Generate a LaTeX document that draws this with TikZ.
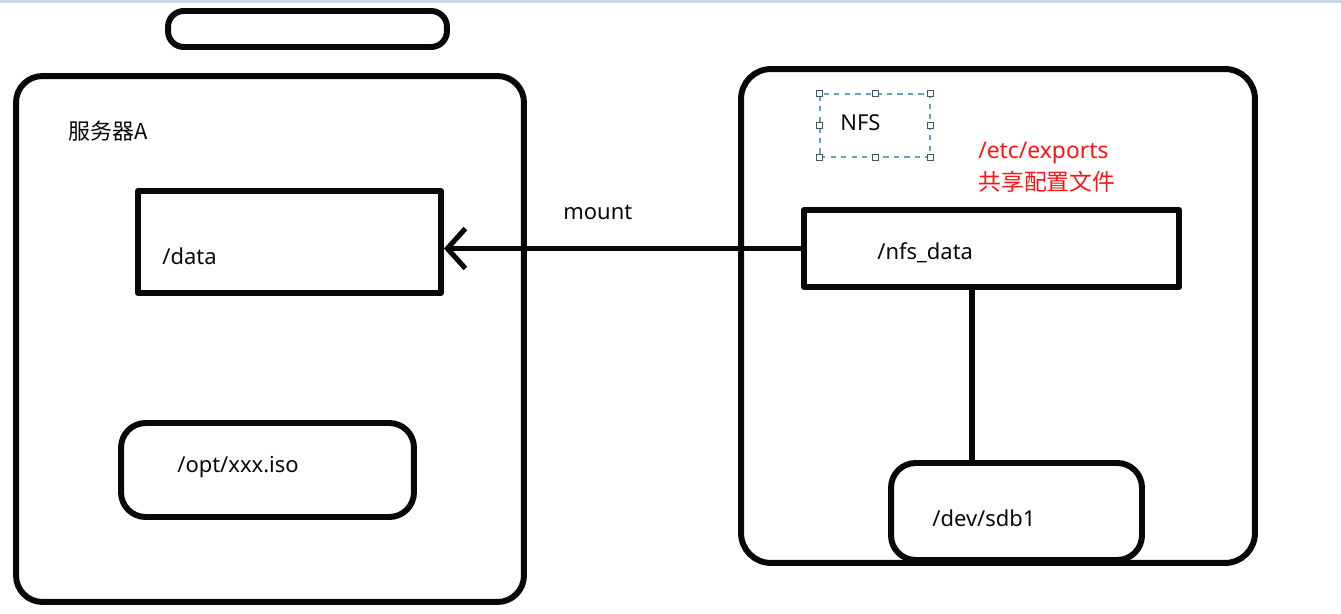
\documentclass[tikz,border=0pt]{standalone}
\usepackage{fontspec}
\setmainfont{Noto Sans}
\newfontfamily\cjk{Noto Sans CJK SC}
\usetikzlibrary{calc,arrows.meta}
\definecolor{inkBlack}{RGB}{8,8,8}
\definecolor{noteRed}{RGB}{250,20,20}
\definecolor{selTeal}{RGB}{105,165,185}
\definecolor{topBand}{RGB}{206,213,228}

\begin{document}
\begin{tikzpicture}[x=0.02cm,y=-0.02cm,
  box/.style={draw=inkBlack,line width=3.4pt,line join=round,inner sep=0pt},
  disk/.style={box,rounded corners=14pt},
  lbl/.style={anchor=west,inner sep=0pt,text=inkBlack,font=\fontsize{12.5}{15}\selectfont}]
\useasboundingbox (0,0) rectangle (1341,614);
\fill[topBand] (0,0) rectangle (1341,3);

\node[box,rounded corners=9pt,minimum width=5.58cm,minimum height=0.72cm] (tab) at (307.5,29) {};

\node[box,rounded corners=15pt,minimum width=10.16cm,minimum height=10.52cm] (srvA) at (270,339) {};
\node[lbl,font=\cjk\fontsize{12.5}{15}\selectfont] (srvAname) at (68,131) {服务器A};
\node[box,minimum width=6.06cm,minimum height=2.04cm] (data) at (289.5,242) {};
\node[lbl] (datatxt) at (162,256) {/data};
\node[disk,minimum width=5.86cm,minimum height=1.88cm] (iso) at (267.5,470) {};
\node[lbl] (isotxt) at (177,467) {/opt/xxx.iso};

\node[box,rounded corners=17pt,minimum width=10.28cm,minimum height=9.88cm] (srvB) at (998,316) {};
\node[draw=selTeal,dashed,line width=0.6pt,minimum width=2.2cm,minimum height=1.26cm,inner sep=0pt] (nfs) at (875,125.5) {};
\foreach \p in {north west,north,north east,east,south east,south,south west,west}
  \draw[selTeal!55!black,fill=white,line width=0.4pt] ([shift={(-3,-3)}]nfs.\p) rectangle ++(6,6);
\node[lbl] (nfstxt) at (840,123) {NFS};
\node[lbl,text=noteRed,font=\fontsize{13}{15}\selectfont] (exports) at (978,153) {/etc/exports};
\node[lbl,text=noteRed,font=\cjk\fontsize{13}{15}\selectfont] (exportsnote) at (978,182) {共享配置文件};
\node[box,minimum width=7.5cm,minimum height=1.54cm] (nfsdata) at (991.5,248.5) {};
\node[lbl] (nfsdatatxt) at (877,253) {/nfs\_data};
\node[disk,minimum width=5.02cm,minimum height=1.94cm] (sdb) at (1016.5,511.5) {};
\node[lbl] (sdbtxt) at (932,518) {/dev/sdb1};

\draw[draw=inkBlack,line width=2.9pt,-{Straight Barb[length=0.36cm,width=0.8cm,line width=2.9pt]}] (nfsdata.west) -- (nfsdata.west -| data.east);
\node[lbl] (mount) at (563,212) {mount};
\draw[draw=inkBlack,line width=3.4pt] ([xshift=-0.39cm]nfsdata.south) -- ([xshift=-0.39cm]nfsdata.south |- sdb.north);
\end{tikzpicture}
\end{document}
